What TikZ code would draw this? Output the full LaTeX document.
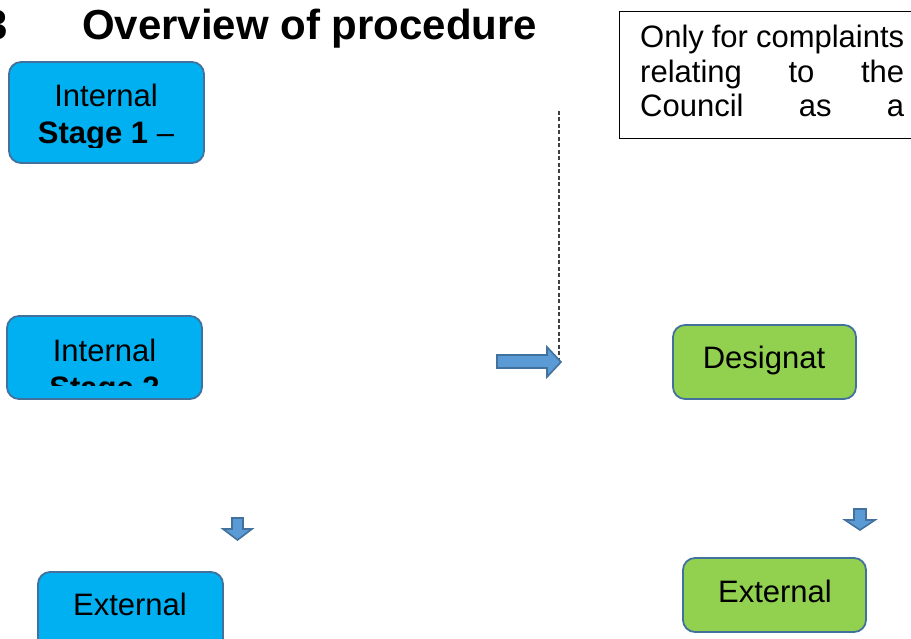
\documentclass[tikz,border=0pt]{standalone}
\usepackage{fontspec}
\setmainfont{Liberation Sans}
\definecolor{stageblue}{HTML}{00B0F0}
\definecolor{stagegreen}{HTML}{92D050}
\definecolor{edgeblue}{HTML}{41719C}
\definecolor{arrowblue}{HTML}{5B9BD5}
\tikzset{
  stagebox/.style={draw=edgeblue, line width=1.8pt, rounded corners=12pt, inner sep=0pt},
  boxtext/.style={font=\fontsize{31}{37}\selectfont, inner sep=0pt, anchor=base},
  blockarrow/.style={fill=arrowblue, draw=edgeblue, line width=1.6pt, line join=miter}
}

\begin{document}
\begin{tikzpicture}[x=1pt,y=-1pt]
\useasboundingbox (0,0) rectangle (911,639);
\clip (0,0) rectangle (911,639);

% heading
\node[font=\fontsize{42}{50}\selectfont\bfseries, inner sep=0pt, anchor=base east] (num) at (8,40) {3};
\node[font=\fontsize{42}{50}\selectfont\bfseries, inner sep=0pt, anchor=base west] (title) at (82,40) {Overview of procedure};

% note box
\draw[black, line width=1pt] (619,12) rectangle (940,139);
\node[boxtext, anchor=base west] (note1) at (640,47.5) {\hbox to 264pt{Only\hfill for\hfill complaints}};
\node[boxtext, anchor=base west] (note2) at (640,83) {\hbox to 264pt{relating\hfill to\hfill the}};
\node[boxtext, anchor=base west] (note3) at (640,117) {\hbox to 264pt{Council\hfill as\hfill a}};

% internal stages
\node[stagebox, fill=stageblue, minimum width=195pt, minimum height=101pt] (stage1) at (106.5,112.5) {};
\begin{scope}
\clip (9,62) rectangle (204,148);
\node[boxtext] (stage1a) at (106,107) {Internal};
\node[boxtext] (stage1b) at (106,144) {\textbf{Stage 1} –};
\end{scope}

\node[stagebox, fill=stageblue, minimum width=195pt, minimum height=83pt] (stage2) at (104.5,357.5) {};
\begin{scope}
\clip (7,316) rectangle (202,385);
\node[boxtext] (stage2a) at (104.5,361) {Internal};
\node[boxtext] (stage2b) at (104.5,398) {\textbf{Stage 2}};
\end{scope}

\node[stagebox, fill=stageblue, minimum width=185pt, minimum height=100pt] (stage3) at (130.5,622) {};
\node[boxtext] (stage3a) at (130,615) {External};

% designated person route
\node[stagebox, fill=stagegreen, minimum width=183pt, minimum height=74pt] (desig) at (764.5,362) {};
\begin{scope}
\clip (673,325) rectangle (856,387);
\node[boxtext] (desiga) at (764,368) {Designat};
\end{scope}

\node[stagebox, fill=stagegreen, minimum width=183pt, minimum height=74pt] (extg) at (774.5,595) {};
\node[boxtext] (extga) at (775,602) {External};

% dotted link and block arrows
\draw[black!75, line width=1.5pt, dash pattern=on 4pt off 2.5pt] (559,111) -- (559,360);
\draw[blockarrow] (497,355) -- (547,355) -- (547,347) -- (561,362) -- (547,377) -- (547,368) -- (497,368) -- cycle;
\draw[blockarrow] (232,518) -- (243,518) -- (243,529) -- (252,529) -- (237.5,540) -- (223,529) -- (232,529) -- cycle;
\draw[blockarrow] (854,509) -- (866,509) -- (866,520) -- (875,520) -- (860,530) -- (845,520) -- (854,520) -- cycle;

\end{tikzpicture}
\end{document}
